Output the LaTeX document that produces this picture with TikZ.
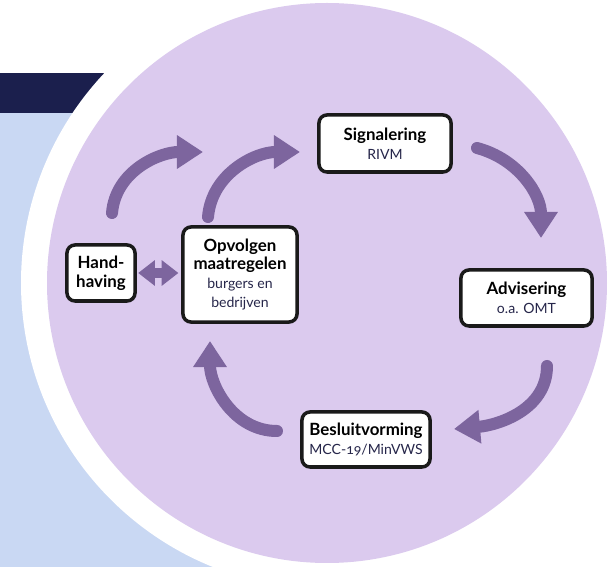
\documentclass[tikz,border=0pt]{standalone}
\usepackage{fontspec}
\setmainfont{Lato}[Numbers=OldStyle]
\usetikzlibrary{arrows.meta}

\definecolor{lila}{HTML}{DBCAEE}
\definecolor{lichtblauw}{HTML}{C9D8F3}
\definecolor{donkerblauw}{HTML}{1B1F4D}
\definecolor{pijlpaars}{HTML}{7D659E}
\definecolor{randzwart}{HTML}{1A1A1A}
\definecolor{subtekst}{HTML}{26264A}

\newcommand{\onder}[1]{{\fontsize{10}{13}\selectfont\mdseries\color{subtekst}#1}}

\begin{document}
\begin{tikzpicture}[x=0.025cm, y=0.025cm,
  stap/.style={draw=randzwart, line width=2.5pt, rounded corners=0.2cm, fill=white,
    align=center, inner sep=0pt, font=\fontsize{12}{13.5}\selectfont\bfseries},
  pijl/.style={pijlpaars, line width=0.3cm, line cap=round,
    -{Triangle[width=0.8cm,length=0.65cm]}},
  dubbel/.style={pijlpaars, line width=0.26cm,
    {Triangle[width=0.62cm,length=0.42cm]}-{Triangle[width=0.62cm,length=0.42cm]}}]
\useasboundingbox (0,0) rectangle (608,567);

% achtergrond
\fill[lichtblauw] (0,0) rectangle (330,454);
\fill[donkerblauw] (0,454) rectangle (330,494);
\fill[white] (327,284) circle (306);
\fill[lila] (327,284) circle (280);

% stappen
\node[stap, minimum width=1.7cm, minimum height=1.4cm] (hand) at (101,294) {Hand-\\having};
\node[stap, minimum width=2.85cm, minimum height=2.375cm] (opvolgen) at (240,292.5)
  {Opvolgen\\maatregelen\\\onder{burgers en}\\\onder{bedrijven}};
\node[stap, minimum width=3.3cm, minimum height=1.425cm] (signalering) at (385,423.5)
  {Signalering\\\onder{RIVM}};
\node[stap, minimum width=3.275cm, minimum height=1.4cm] (advisering) at (526.5,269)
  {Advisering\\\onder{o.a. OMT}};
\node[stap, minimum width=3.2cm, minimum height=1.375cm] (besluit) at (366,127.5)
  {Besluitvorming\\\onder{MCC-19/MinVWS}};

% pijlen
\coordinate (p1a) at (112,354);
\coordinate (p1b) at (203,415);
\coordinate (p2a) at (208,350);
\coordinate (p2b) at (300,415);
\coordinate (p3a) at (477,419);
\coordinate (p3b) at (541,329);
\coordinate (p4a) at (547,201);
\coordinate (p4b) at (454,138);
\coordinate (p5a) at (277,136);
\coordinate (p5b) at (210,226);

\draw[pijl] (p1a) to[out=85,in=180] (p1b);
\draw[pijl] (p2a) to[out=85,in=180] (p2b);
\draw[pijl] (p3a) to[out=-15,in=90] (p3b);
\draw[pijl] (p4a) to[out=-90,in=5] (p4b);
\draw[pijl] (p5a) to[out=180,in=-90] (p5b);

\draw[dubbel, shorten <=1pt, shorten >=2pt] (hand.east) -- (hand.east -| opvolgen.west);
\end{tikzpicture}
\end{document}
